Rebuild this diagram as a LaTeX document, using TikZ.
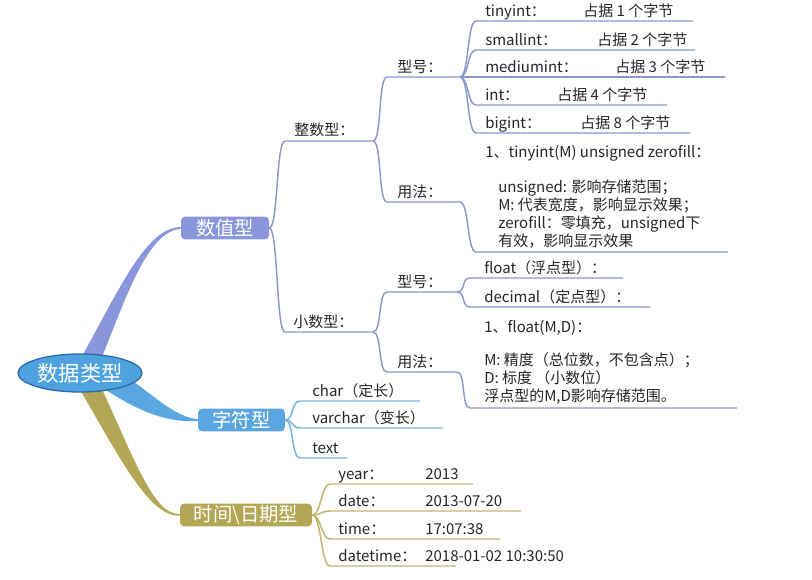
\documentclass[tikz,border=0pt]{standalone}
\usepackage{fontspec}
\setmainfont{Noto Sans CJK SC}
\usetikzlibrary{shapes.geometric,backgrounds}

\definecolor{rootc}{HTML}{4EA3DF}
\definecolor{rootedge}{HTML}{2D6BA6}
\definecolor{numc}{HTML}{8A96DA}
\definecolor{numl}{HTML}{8A98CC}
\definecolor{strc}{HTML}{5AA6E0}
\definecolor{strl}{HTML}{72B3E3}
\definecolor{timec}{HTML}{B3A755}
\definecolor{timel}{HTML}{C1B56C}

\begin{document}
\begin{tikzpicture}[x=0.75pt, y=-0.75pt,
    every node/.style={font=\fontsize{11.25}{13.5}\selectfont, text=black!85, inner sep=0pt},
    leaf/.style={anchor=base west},
    rootnode/.style={ellipse, fill=rootc, draw=rootedge, line width=1pt, text=white,
        minimum width=93pt, minimum height=28.5pt, font=\fontsize{16}{18}\selectfont},
    catbox/.style={rounded corners=3pt, text=white, minimum height=17pt,
        font=\fontsize{14.5}{16}\selectfont},
    elbow/.style={to path={.. controls +(9,0) and +(-9,0) .. (\tikztotarget)}},
    numlink/.style={draw=numl, line width=1.1pt},
    strlink/.style={draw=strl, line width=1.1pt},
    timelink/.style={draw=timel, line width=1.1pt}]

    \useasboundingbox (0,0) rectangle (812,579);

    \node[rootnode] (root) at (80,373) [] {数据类型};
    \node[catbox, fill=numc, minimum width=66pt] (numbox) at (225,228) [] {数值型};
    \node[catbox, fill=strc, minimum width=65pt] (charbox) at (241.5,420) [] {字符型};
    \node[catbox, fill=timec, minimum width=99pt] (timebox) at (246,515) [] {时间\textbackslash 日期型};

    \begin{scope}[on background layer]
        \fill[numc] ([xshift=1pt,yshift=-3pt]root.north) .. controls (118,292) and (146,227) .. ([yshift=0.7pt]numbox.west)
            -- ([yshift=-0.7pt]numbox.west) .. controls (148,231) and (127,295) .. ([xshift=16pt,yshift=-4pt]root.north) -- cycle;
        \fill[strc] ([xshift=34pt,yshift=-2pt]root.center) .. controls (152,394) and (176,418) .. ([yshift=0.7pt]charbox.west)
            -- ([yshift=-0.7pt]charbox.west) .. controls (168,423) and (138,412) .. ([xshift=14pt,yshift=-9pt]root.center) -- cycle;
        \fill[timec] ([xshift=-2pt,yshift=-9pt]root.center) .. controls (124,466) and (150,516) .. ([yshift=-0.6pt]timebox.west)
            -- ([yshift=0.6pt]timebox.west) .. controls (153,514) and (136,462) .. ([xshift=15pt,yshift=-9pt]root.center) -- cycle;
    \end{scope}

    % zhengshu
    \node[leaf] (zhengshu) at (294,135.5) [] {整数型：};
    \coordinate (zhengshu-s) at (285,141);
    \coordinate (zhengshu-e) at (373,141);
        \draw[numlink] (numbox.east) to[elbow] (zhengshu-s) -- (zhengshu-e);
    \node[leaf] (xh1) at (397,72.5) [] {型号：};
    \coordinate (xh1-s) at (387,77);
    \coordinate (xh1-e) at (460,77);
        \draw[numlink] (zhengshu-e) to[elbow] (xh1-s) -- (xh1-e);
    \node[leaf] (tinyint) at (485,16.5) [] {tinyint：};
    \node[leaf] (tinyint-v) at (583,16.5) [] {占据 1 个字节};
    \coordinate (tinyint-s) at (476,21);
    \coordinate (tinyint-e) at (693,21);
        \draw[numlink] (xh1-e) to[elbow] (tinyint-s) -- (tinyint-e);
    \node[leaf] (smallint) at (485,45.5) [] {smallint：};
    \node[leaf] (smallint-v) at (597,45.5) [] {占据 2 个字节};
    \coordinate (smallint-s) at (476,50);
    \coordinate (smallint-e) at (695,50);
        \draw[numlink] (xh1-e) to[elbow] (smallint-s) -- (smallint-e);
    \node[leaf] (mediumint) at (485,72.5) [] {mediumint：};
    \node[leaf] (mediumint-v) at (615,72.5) [] {占据 3 个字节};
    \coordinate (mediumint-s) at (476,77);
    \coordinate (mediumint-e) at (725,77);
        \draw[numlink] (xh1-e) to[elbow] (mediumint-s) -- (mediumint-e);
    \node[leaf] (int) at (485,100.5) [] {int：};
    \node[leaf] (int-v) at (557,100.5) [] {占据 4 个字节};
    \coordinate (int-s) at (476,105);
    \coordinate (int-e) at (667,105);
        \draw[numlink] (xh1-e) to[elbow] (int-s) -- (int-e);
    \node[leaf] (bigint) at (485,128.5) [] {bigint：};
    \node[leaf] (bigint-v) at (580,128.5) [] {占据 8 个字节};
    \coordinate (bigint-s) at (476,133);
    \coordinate (bigint-e) at (690,133);
        \draw[numlink] (xh1-e) to[elbow] (bigint-s) -- (bigint-e);
    \node[leaf] (yf1) at (397,197.5) [] {用法：};
    \coordinate (yf1-s) at (387,202);
    \coordinate (yf1-e) at (460,202);
        \draw[numlink] (zhengshu-e) to[elbow] (yf1-s) -- (yf1-e);
    \node[leaf] (yf1-head) at (485,157) [] {1、tinyint(M) unsigned zerofill：};
    \node[leaf, align=left, anchor=south west] (yf1-body) at (498,248.5) [] {unsigned: 影响存储范围；\\M: 代表宽度，影响显示效果；\\zerofill：零填充，unsigned下\\有效，影响显示效果};
    \coordinate (yf1-body-s) at (476,252);
    \coordinate (yf1-body-e) at (728,252);
        \draw[numlink] (yf1-e) to[elbow] (yf1-body-s) -- (yf1-body-e);

    % xiaoshu
    \node[leaf] (xiaoshu) at (293,327.5) [] {小数型：};
    \coordinate (xiaoshu-s) at (285,332);
    \coordinate (xiaoshu-e) at (373,332);
        \draw[numlink] (numbox.east) to[elbow] (xiaoshu-s) -- (xiaoshu-e);
    \node[leaf] (xh2) at (397,287.5) [] {型号：};
    \coordinate (xh2-s) at (387,292);
    \coordinate (xh2-e) at (457,292);
        \draw[numlink] (xiaoshu-e) to[elbow] (xh2-s) -- (xh2-e);
    \node[leaf] (float) at (484,273.5) [] {float（浮点型）：};
    \coordinate (float-s) at (470,278);
    \coordinate (float-e) at (623,278);
        \draw[numlink] (xh2-e) to[elbow] (float-s) -- (float-e);
    \node[leaf] (decimal) at (484,302.5) [] {decimal（定点型）：};
    \coordinate (decimal-s) at (470,307);
    \coordinate (decimal-e) at (650,307);
        \draw[numlink] (xh2-e) to[elbow] (decimal-s) -- (decimal-e);
    \node[leaf] (yf2) at (397,367.5) [] {用法：};
    \coordinate (yf2-s) at (387,372);
    \coordinate (yf2-e) at (457,372);
        \draw[numlink] (xiaoshu-e) to[elbow] (yf2-s) -- (yf2-e);
    \node[leaf] (yf2-head) at (484,332) [] {1、float(M,D)：};
    \node[leaf, align=left, anchor=south west] (yf2-body) at (484,404.5) [] {M: 精度（总位数，不包含点）；\\D: 标度 （小数位）\\浮点型的M,D影响存储范围。};
    \coordinate (yf2-body-s) at (470,408);
    \coordinate (yf2-body-e) at (737,408);
        \draw[numlink] (yf2-e) to[elbow] (yf2-body-s) -- (yf2-body-e);

    % zifu
    \node[leaf] (char) at (312,396.5) [] {char（定长）};
    \coordinate (char-s) at (300,401);
    \coordinate (char-e) at (420,401);
        \draw[strlink] (charbox.east) to[elbow] (char-s) -- (char-e);
    \node[leaf] (varchar) at (312,423.5) [] {varchar（变长）};
    \coordinate (varchar-s) at (300,428);
    \coordinate (varchar-e) at (443,428);
        \draw[strlink] (charbox.east) to[elbow] (varchar-s) -- (varchar-e);
    \node[leaf] (text) at (312,453.5) [] {text};
    \coordinate (text-s) at (300,458);
    \coordinate (text-e) at (347,458);
        \draw[strlink] (charbox.east) to[elbow] (text-s) -- (text-e);

    % shijian
    \node[leaf] (year) at (338,479.5) [] {year：};
    \node[leaf] (year-v) at (425,479.5) [] {2013};
    \coordinate (year-s) at (330,484);
    \coordinate (year-e) at (473,484);
        \draw[timelink] (timebox.east) to[elbow] (year-s) -- (year-e);
    \node[leaf] (date) at (338,506.5) [] {date：};
    \node[leaf] (date-v) at (425,506.5) [] {2013-07-20};
    \coordinate (date-s) at (330,511);
    \coordinate (date-e) at (521,511);
        \draw[timelink] (timebox.east) to[elbow] (date-s) -- (date-e);
    \node[leaf] (time) at (338,534.5) [] {time：};
    \node[leaf] (time-v) at (425,534.5) [] {17:07:38};
    \coordinate (time-s) at (330,539);
    \coordinate (time-e) at (500,539);
        \draw[timelink] (timebox.east) to[elbow] (time-s) -- (time-e);
    \node[leaf] (datetime) at (338,561.5) [] {datetime：};
    \node[leaf] (datetime-v) at (425,561.5) [] {2018-01-02 10:30:50};
    \coordinate (datetime-s) at (330,566);
    \coordinate (datetime-e) at (456,566);
        \draw[timelink] (timebox.east) to[elbow] (datetime-s) -- (datetime-e);

\end{tikzpicture}
\end{document}
